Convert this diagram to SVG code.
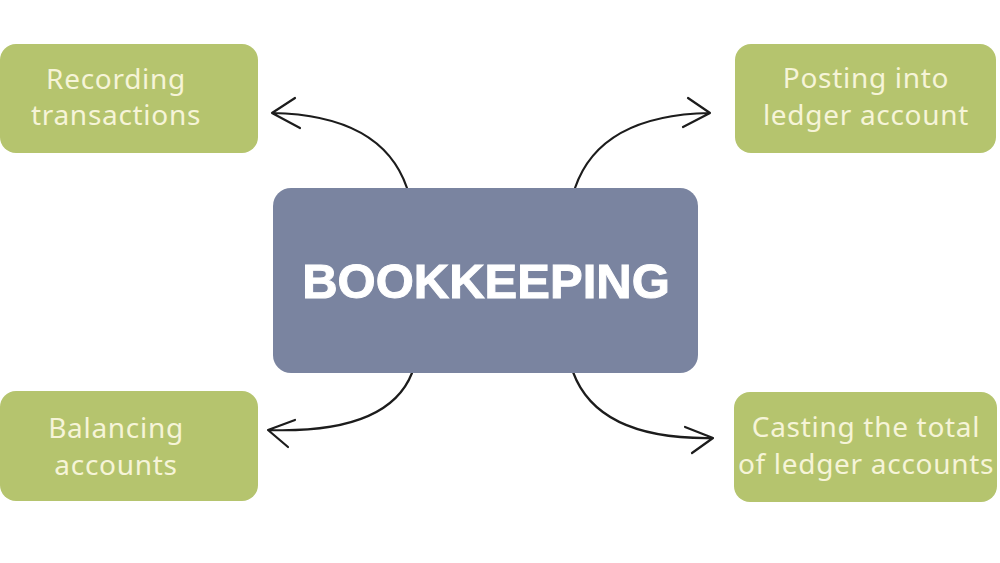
<svg xmlns="http://www.w3.org/2000/svg" width="1000" height="563" viewBox="0 0 1000 563">
<defs>
<style>
.leaf{fill:#b5c46e}
.lt{font-family:"Noto Sans","Liberation Sans",sans-serif;font-size:28px;letter-spacing:0.7px;fill:#f6f4d8;text-anchor:middle}
.hub{fill:#7a84a0}
.ht{font-family:"Liberation Sans",Arial,sans-serif;font-weight:bold;font-size:49px;fill:#ffffff;stroke:#ffffff;stroke-width:1;text-anchor:middle}
.arr{fill:none;stroke:#1c1c1c;stroke-width:2.2;stroke-linecap:round;stroke-linejoin:round}
</style>
</defs>
<rect width="1000" height="563" fill="#ffffff"/>
<g id="connectors">
<path class="arr" d="M407,188 Q382,115 272,113 M295,98 L272,113 L300,128"/>
<path class="arr" d="M575,188 Q600,115 710,113 M688,98 L710,113 L683,127"/>
<path class="arr" d="M412,373 Q388,434 268,430 M295,420 L268,430 L288,447"/>
<path class="arr" d="M573,372 Q598,440 713,438 M685,427 L713,438 L692,453"/>
</g>
<g id="bookkeeping">
<rect class="hub" x="273" y="188" width="425" height="185" rx="18"/>
<text class="ht" x="486" y="298">BOOKKEEPING</text>
</g>
<g id="recording">
<rect class="leaf" x="0" y="44" width="258" height="109" rx="16"/>
<text class="lt" x="116" y="89">Recording</text>
<text class="lt" x="116" y="125">transactions</text>
</g>
<g id="posting">
<rect class="leaf" x="735" y="44" width="261" height="109" rx="16"/>
<text class="lt" x="866" y="88">Posting into</text>
<text class="lt" x="866" y="125">ledger account</text>
</g>
<g id="balancing">
<rect class="leaf" x="0" y="391" width="258" height="110" rx="16"/>
<text class="lt" x="116" y="438">Balancing</text>
<text class="lt" x="116" y="475">accounts</text>
</g>
<g id="casting">
<rect class="leaf" x="734" y="392" width="263" height="110" rx="16"/>
<text class="lt" x="866" y="437">Casting the total</text>
<text class="lt" x="866" y="474">of ledger accounts</text>
</g>
</svg>
